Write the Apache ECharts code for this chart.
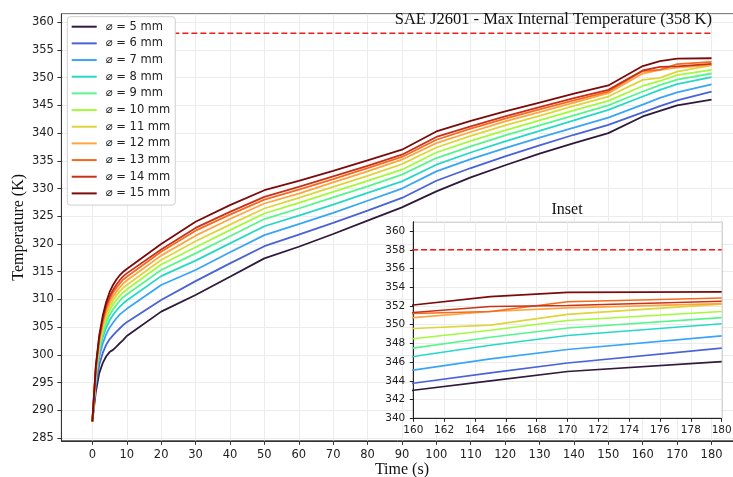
<!DOCTYPE html>
<html>
<head>
<meta charset="utf-8">
<script src="https://cdn.jsdelivr.net/npm/echarts@6/dist/echarts.min.js"></script>
<style>
  html, body { margin: 0; padding: 0; background: #fff; }
  #chart { width: 733px; height: 477px; }
</style>
</head>
<body>
<div id="chart"></div>
<script>
// Sample times (s)
const timeS = [0, 1, 2, 3, 4, 5, 6, 7, 8, 9, 10, 20, 30, 40, 50, 60, 70, 80, 90, 100, 110, 120, 130, 140, 150, 160, 165, 170, 180];

// Pipe diameters (mm)
const diameters = [5, 6, 7, 8, 9, 10, 11, 12, 13, 14, 15];

// Max internal temperature (K) for each diameter
const temp5  = [288, 293.3, 296.7, 298.5, 299.7, 300.5, 300.9, 301.5, 302.1, 302.7, 303.4, 307.8, 310.8, 314.1, 317.4, 319.5, 321.8, 324.2, 326.6, 329.5, 332.0, 334.2, 336.3, 338.2, 340.0, 343.0, 344.0, 345.0, 346.05];
const temp6  = [288, 294.3, 298.2, 300.3, 301.8, 302.8, 303.5, 304.2, 304.8, 305.4, 305.9, 309.9, 313.3, 316.5, 319.6, 321.7, 323.8, 326.0, 328.3, 331.4, 333.7, 335.8, 337.8, 339.7, 341.5, 343.75, 344.85, 345.9, 347.5];
const temp7  = [288, 295.2, 299.6, 302.0, 303.7, 304.9, 305.8, 306.6, 307.3, 307.8, 308.3, 312.6, 315.3, 318.5, 321.6, 323.6, 325.6, 327.8, 330.0, 333.1, 335.3, 337.3, 339.2, 341.0, 342.8, 345.15, 346.35, 347.35, 348.8];
const temp8  = [288, 295.8, 300.4, 303.1, 304.9, 306.2, 307.2, 308.0, 308.7, 309.3, 309.8, 314.2, 317.0, 320.1, 323.2, 325.1, 327.1, 329.2, 331.3, 334.3, 336.5, 338.5, 340.4, 342.3, 344.2, 346.6, 347.8, 348.85, 350.1];
const temp9  = [288, 296.2, 301.0, 303.8, 305.8, 307.2, 308.2, 309.0, 309.8, 310.4, 310.9, 315.3, 318.3, 321.4, 324.5, 326.4, 328.4, 330.4, 332.5, 335.5, 337.6, 339.6, 341.4, 343.2, 345.0, 347.5, 348.65, 349.65, 350.75];
const temp10 = [288, 296.6, 301.4, 304.4, 306.5, 308.0, 309.1, 309.9, 310.7, 311.3, 311.8, 316.3, 319.4, 322.5, 325.5, 327.4, 329.4, 331.4, 333.4, 336.5, 338.6, 340.5, 342.3, 344.1, 345.8, 348.5, 349.4, 350.45, 351.4];
const temp11 = [288, 296.9, 301.9, 305.0, 307.2, 308.7, 309.8, 310.7, 311.5, 312.1, 312.6, 317.1, 320.5, 323.5, 326.4, 328.3, 330.3, 332.3, 334.4, 337.4, 339.5, 341.4, 343.1, 344.9, 346.6, 349.6, 349.95, 351.1, 352.2];
const temp12 = [288, 297.2, 302.4, 305.5, 307.8, 309.4, 310.5, 311.4, 312.2, 312.9, 313.4, 317.9, 321.5, 324.5, 327.3, 329.1, 331.1, 333.1, 335.2, 338.2, 340.2, 342.1, 343.8, 345.5, 347.2, 350.75, 351.4, 351.8, 352.25];
const temp13 = [288, 297.5, 302.8, 306.0, 308.4, 310.0, 311.2, 312.1, 312.9, 313.6, 314.1, 318.6, 322.4, 325.3, 328.0, 329.8, 331.7, 333.7, 335.7, 338.8, 340.8, 342.6, 344.3, 345.9, 347.5, 351.2, 351.4, 352.45, 352.85];
const temp14 = [288, 297.7, 303.1, 306.4, 308.9, 310.5, 311.7, 312.7, 313.5, 314.2, 314.7, 319.0, 322.9, 325.8, 328.5, 330.3, 332.2, 334.1, 336.1, 339.3, 341.2, 343.0, 344.7, 346.3, 347.8, 351.3, 351.95, 352.05, 352.5];
const temp15 = [288, 298.0, 303.5, 307.0, 309.5, 311.3, 312.6, 313.6, 314.4, 315.0, 315.5, 320.0, 324.0, 327.0, 329.7, 331.4, 333.2, 335.1, 337.0, 340.3, 342.2, 343.9, 345.5, 347.1, 348.6, 352.1, 353.0, 353.45, 353.5];

// SAE J2601 limit
const limitTemp = 358;
const limitSpan = [0, 180];
const limitLabel = 'SAE J2601 - Max Internal Temperature (358 K)';

const temps = [temp5, temp6, temp7, temp8, temp9, temp10, temp11, temp12, temp13, temp14, temp15];
const lineColors = ['#2f1a3c', '#4a62d8', '#3aa5f8', '#28d8c6', '#58f58c', '#a3fa3c',
                    '#ddd53a', '#fda540', '#f76a1d', '#c8321a', '#7b0a0a'];
const names = diameters.map(d => '\u2300 = ' + d + ' mm');

const serif = 'Liberation Serif';
const sans = 'DejaVu Sans';
const limitColor = '#ee1c1c';

function curveSeries(axisIdx, width, z) {
  return temps.map((arr, i) => ({
    type: 'line',
    name: names[i],
    xAxisIndex: axisIdx,
    yAxisIndex: axisIdx,
    data: timeS.map((t, j) => [t, arr[j]]),
    symbol: 'none',
    showSymbol: false,
    lineStyle: { width: width, color: lineColors[i] },
    itemStyle: { color: lineColors[i] },
    z: z,
    silent: true
  }));
}

function limitSeries(axisIdx, z) {
  return {
    type: 'line',
    name: 'limit',
    xAxisIndex: axisIdx,
    yAxisIndex: axisIdx,
    data: limitSpan.map(t => [t, limitTemp]),
    symbol: 'none',
    lineStyle: { width: 1.6, color: limitColor, type: [6, 3] },
    itemStyle: { color: limitColor },
    z: z,
    silent: true
  };
}

const chart = echarts.init(document.getElementById('chart'), null, { renderer: 'canvas' });

chart.setOption({
  animation: false,
  backgroundColor: '#fff',
  title: [
    {
      text: limitLabel,
      right: 21, top: 11, padding: 0,
      textStyle: { fontFamily: serif, fontSize: 16.5, fontWeight: 'normal', color: '#111' }
    },
    {
      text: 'Inset',
      left: 551.5, top: 202, padding: 0,
      textStyle: { fontFamily: serif, fontSize: 16, fontWeight: 'normal', color: '#111' }
    }
  ],
  legend: {
    data: names,
    orient: 'vertical',
    left: 67.3, top: 16.7,
    icon: 'rect',
    itemWidth: 25, itemHeight: 2,
    itemGap: 2.67,
    padding: [3, 5, 4.7, 4.4],
    backgroundColor: '#fff',
    borderColor: '#cfcfcf', borderWidth: 1, borderRadius: 3,
    textStyle: { fontFamily: sans, fontSize: 11.5, color: '#222', lineHeight: 14, padding: [0, 0, 0, 4] },
    selectedMode: false,
    z: 6
  },
  grid: [
    { left: 61.4, top: 13.9, width: 681.1, height: 426.9, show: true, outerBoundsMode: 'none',
      borderColor: '#333', borderWidth: 1, backgroundColor: 'transparent', containLabel: false },
    { left: 413.3, top: 221.7, width: 308.4, height: 196.6, show: true, outerBoundsMode: 'none',
      borderColor: '#222', borderWidth: 1, backgroundColor: '#fff', containLabel: false, z: 3 }
  ],
  xAxis: [
    {
      type: 'value', gridIndex: 0, min: -9, max: 189, minInterval: 10, maxInterval: 10,
      name: 'Time (s)', nameLocation: 'middle', nameGap: 21, nameMoveOverlap: false,
      nameTextStyle: { fontFamily: serif, fontSize: 16, color: '#111' },
      axisLine: { show: true, onZero: false, lineStyle: { color: '#333' } },
      axisTick: { show: true, length: 4, lineStyle: { color: '#333' } },
      axisLabel: { showMinLabel: false, showMaxLabel: false, color: '#222', fontFamily: sans, fontSize: 11.5, margin: 8 },
      splitLine: { show: true, lineStyle: { color: '#ececec', width: 1 } }
    },
    {
      type: 'value', gridIndex: 1, min: 160, max: 180, interval: 2, z: 3,
      axisLine: { show: true, onZero: false, lineStyle: { color: '#222' } },
      axisTick: { show: true, length: 3.5, lineStyle: { color: '#222' } },
      axisLabel: { color: '#222', fontFamily: sans, fontSize: 10.5, margin: 6 },
      splitLine: { show: true, lineStyle: { color: '#ececec', width: 1 } }
    }
  ],
  yAxis: [
    {
      type: 'value', gridIndex: 0, min: 284.5, max: 361.5, minInterval: 5, maxInterval: 5,
      name: 'Temperature (K)', nameLocation: 'middle', nameGap: 35, nameMoveOverlap: false,
      nameTextStyle: { fontFamily: serif, fontSize: 16, color: '#111' },
      axisLine: { show: true, onZero: false, lineStyle: { color: '#333' } },
      axisTick: { show: true, length: 4, lineStyle: { color: '#333' } },
      axisLabel: { showMinLabel: false, showMaxLabel: false, color: '#222', fontFamily: sans, fontSize: 11.5, margin: 7.5 },
      splitLine: { show: true, lineStyle: { color: '#ececec', width: 1 } }
    },
    {
      type: 'value', gridIndex: 1, min: 340, max: 361, interval: 2, z: 3,
      axisLine: { show: true, onZero: false, lineStyle: { color: '#222' } },
      axisTick: { show: true, length: 3.5, lineStyle: { color: '#222' } },
      axisLabel: { showMaxLabel: false, color: '#222', fontFamily: sans, fontSize: 10.5, margin: 8 },
      splitLine: { show: true, lineStyle: { color: '#ececec', width: 1 } }
    }
  ],
  series: [].concat(
    curveSeries(0, 1.8, 2),
    [limitSeries(0, 2)],
    curveSeries(1, 1.6, 4),
    [limitSeries(1, 4)]
  )
});
</script>
</body>
</html>
